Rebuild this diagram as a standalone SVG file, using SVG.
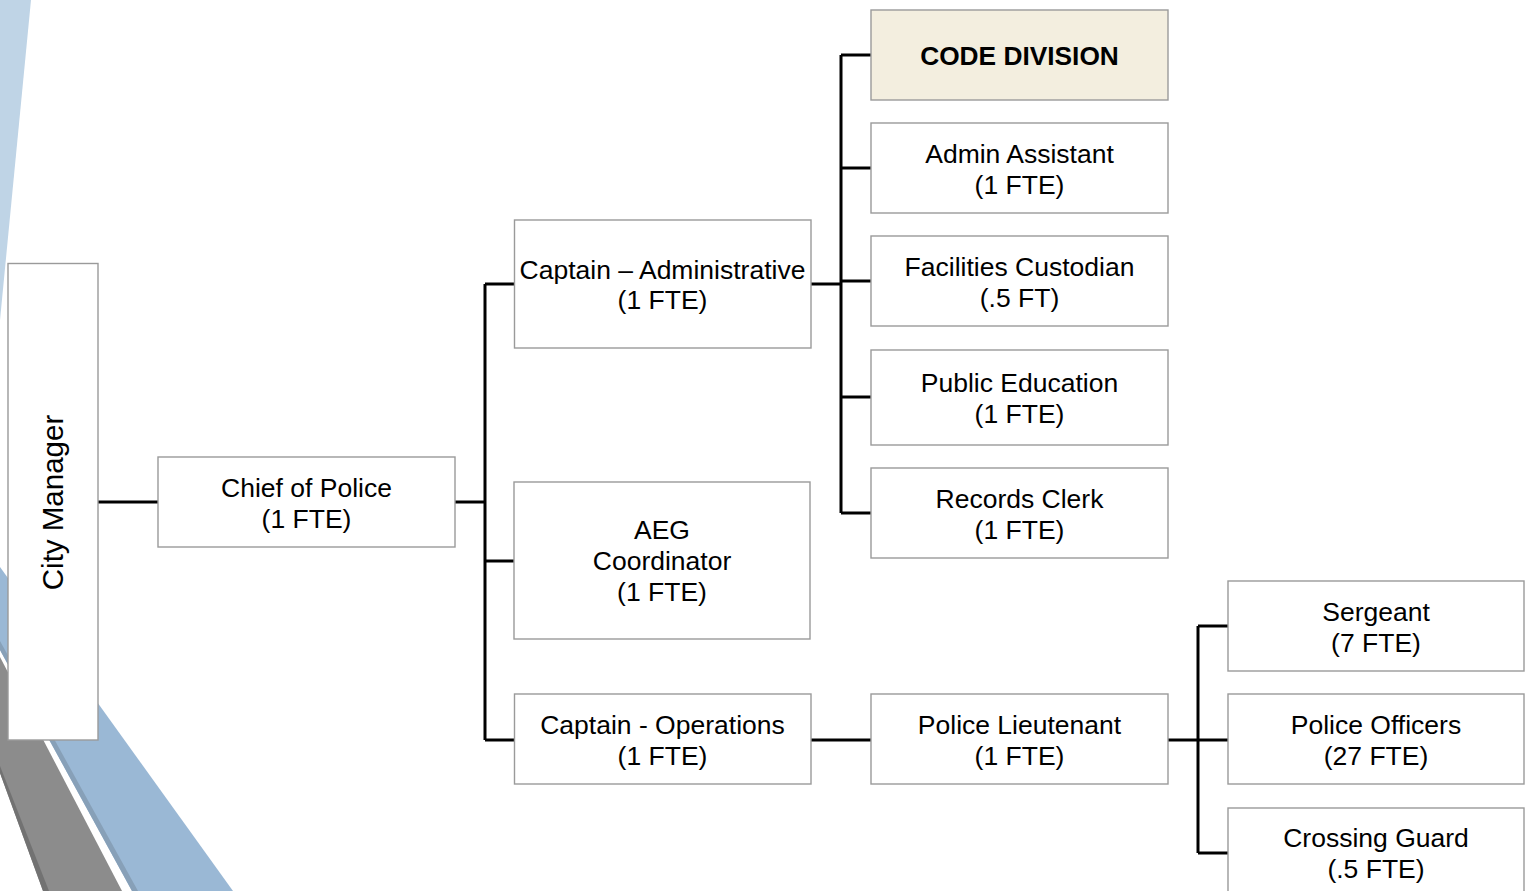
<svg xmlns="http://www.w3.org/2000/svg" width="1530" height="891" viewBox="0 0 1530 891">
  <style>
    .box { fill: #ffffff; stroke: #9a9a9a; stroke-width: 1.4; }
    .code { fill: #F3EEDF; }
    .lbl { font-family: "Liberation Sans", Arial, sans-serif; font-size: 26.5px; fill: #000; text-anchor: middle; }
    .bold { font-weight: bold; font-size: 26.3px; }
    .big { font-size: 29.5px; }
    .wire { fill: none; stroke: #000; stroke-width: 3; }
  </style>

  <!-- background ribbons -->
  <g id="ribbons">
    <polygon points="0,0 31,0 0,320" fill="#BFD4E6"/>
    <polygon points="0,567 233,891 132,891 0,650" fill="#9AB8D5"/>
    <polygon points="0,650 132,891 138,891 0,641" fill="#87A0B8"/>
    <polygon points="0,657 122,891 43,891 0,773" fill="#8C8C8C"/>
    <polygon points="0,773 43,891 49,891 0,766" fill="#727272"/>
  </g>

  <!-- connectors -->
  <g id="connectors" class="wire">
    <line x1="98" y1="502" x2="158" y2="502"/>
    <polyline points="455,502 485,502"/>
    <line x1="485" y1="284" x2="485" y2="740"/>
    <line x1="485" y1="284" x2="514" y2="284"/>
    <line x1="485" y1="561" x2="514" y2="561"/>
    <line x1="485" y1="740" x2="514" y2="740"/>
    <line x1="811" y1="284" x2="841" y2="284"/>
    <line x1="841" y1="55" x2="841" y2="513"/>
    <line x1="841" y1="55" x2="871" y2="55"/>
    <line x1="841" y1="168" x2="871" y2="168"/>
    <line x1="841" y1="281" x2="871" y2="281"/>
    <line x1="841" y1="397" x2="871" y2="397"/>
    <line x1="841" y1="513" x2="871" y2="513"/>
    <line x1="811" y1="740" x2="871" y2="740"/>
    <line x1="1168" y1="740" x2="1198" y2="740"/>
    <line x1="1198" y1="626" x2="1198" y2="853"/>
    <line x1="1198" y1="626" x2="1228" y2="626"/>
    <line x1="1198" y1="740" x2="1228" y2="740"/>
    <line x1="1198" y1="853" x2="1228" y2="853"/>
  </g>

  <g id="city-manager">
    <rect class="box" x="8" y="263.5" width="90" height="476.5"/>
    <text class="lbl big" transform="translate(63,502.5) rotate(-90)">City Manager</text>
  </g>

  <g id="chief">
    <rect class="box" x="158" y="457" width="297" height="90"/>
    <text class="lbl" x="306.5" y="497">Chief of Police</text>
    <text class="lbl" x="306.5" y="528">(1 FTE)</text>
  </g>

  <g id="captain-admin">
    <rect class="box" x="514.5" y="220" width="296.5" height="128"/>
    <text class="lbl" x="662.5" y="278.5">Captain – Administrative</text>
    <text class="lbl" x="662.5" y="309">(1 FTE)</text>
  </g>

  <g id="aeg">
    <rect class="box" x="514" y="482" width="296" height="157"/>
    <text class="lbl" x="662" y="539">AEG</text>
    <text class="lbl" x="662" y="570">Coordinator</text>
    <text class="lbl" x="662" y="601">(1 FTE)</text>
  </g>

  <g id="captain-ops">
    <rect class="box" x="514.5" y="694" width="296.5" height="90"/>
    <text class="lbl" x="662.5" y="734">Captain - Operations</text>
    <text class="lbl" x="662.5" y="765">(1 FTE)</text>
  </g>

  <g id="code-division">
    <rect class="box code" x="871" y="10" width="297" height="90"/>
    <text class="lbl bold" x="1019.5" y="65">CODE DIVISION</text>
  </g>

  <g id="admin-assistant">
    <rect class="box" x="871" y="123" width="297" height="90"/>
    <text class="lbl" x="1019.5" y="163">Admin Assistant</text>
    <text class="lbl" x="1019.5" y="194">(1 FTE)</text>
  </g>

  <g id="facilities">
    <rect class="box" x="871" y="236" width="297" height="90"/>
    <text class="lbl" x="1019.5" y="276">Facilities Custodian</text>
    <text class="lbl" x="1019.5" y="307">(.5 FT)</text>
  </g>

  <g id="public-education">
    <rect class="box" x="871" y="350" width="297" height="95"/>
    <text class="lbl" x="1019.5" y="392">Public Education</text>
    <text class="lbl" x="1019.5" y="423">(1 FTE)</text>
  </g>

  <g id="records-clerk">
    <rect class="box" x="871" y="468" width="297" height="90"/>
    <text class="lbl" x="1019.5" y="508">Records Clerk</text>
    <text class="lbl" x="1019.5" y="539">(1 FTE)</text>
  </g>

  <g id="lieutenant">
    <rect class="box" x="871" y="694" width="297" height="90"/>
    <text class="lbl" x="1019.5" y="734">Police Lieutenant</text>
    <text class="lbl" x="1019.5" y="765">(1 FTE)</text>
  </g>

  <g id="sergeant">
    <rect class="box" x="1228" y="581" width="296" height="90"/>
    <text class="lbl" x="1376" y="621">Sergeant</text>
    <text class="lbl" x="1376" y="652">(7 FTE)</text>
  </g>

  <g id="officers">
    <rect class="box" x="1228" y="694" width="296" height="90"/>
    <text class="lbl" x="1376" y="734">Police Officers</text>
    <text class="lbl" x="1376" y="765">(27 FTE)</text>
  </g>

  <g id="crossing-guard">
    <rect class="box" x="1228" y="808" width="296" height="90"/>
    <text class="lbl" x="1376" y="847">Crossing Guard</text>
    <text class="lbl" x="1376" y="878">(.5 FTE)</text>
  </g>
</svg>
